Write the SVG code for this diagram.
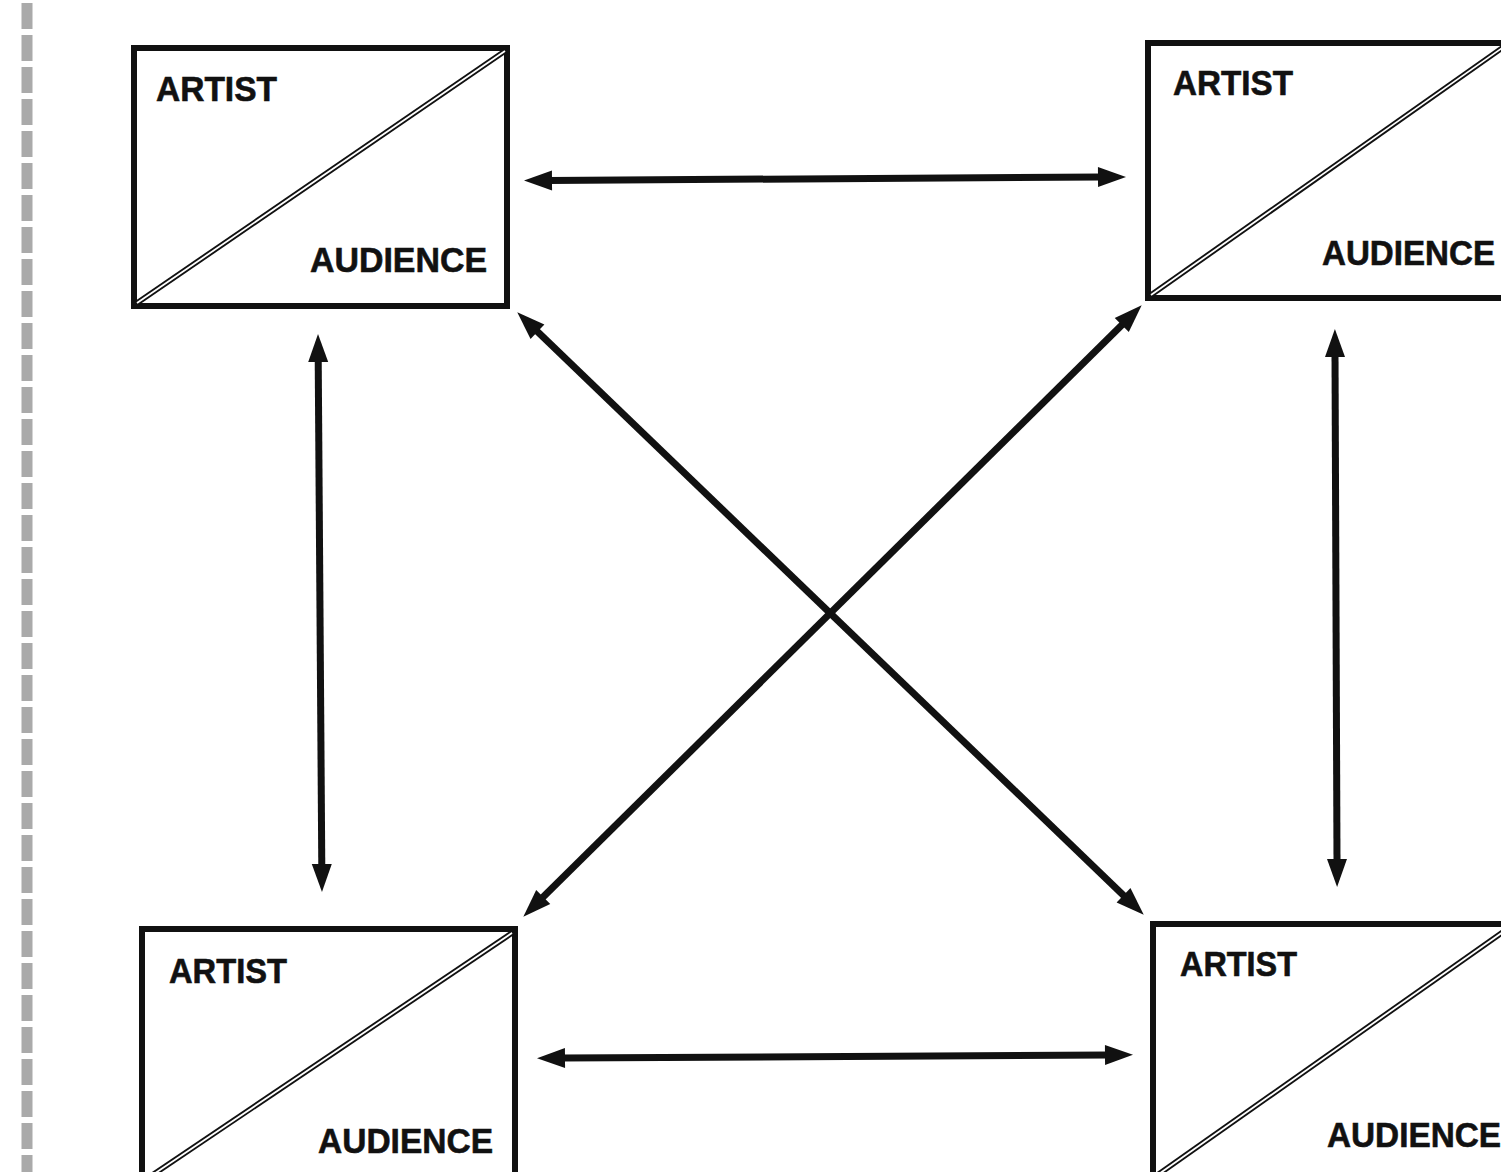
<svg xmlns="http://www.w3.org/2000/svg" width="1501" height="1172" viewBox="0 0 1501 1172">
<style>
.box{fill:#fff;stroke:#111;stroke-width:6}
.dO{stroke:#111;stroke-width:5.5;fill:none}
.dI{stroke:#fff;stroke-width:1.8;fill:none}
.lbl{font-family:"Liberation Sans",Arial,sans-serif;font-weight:bold;font-size:35px;fill:#111;stroke:#111;stroke-width:0.6}
.con{stroke:#111;stroke-width:7;fill:none;marker-start:url(#ah);marker-end:url(#ah)}
</style>
<defs>
<marker id="ah" markerUnits="userSpaceOnUse" markerWidth="32" markerHeight="24" viewBox="-4 -12 32 24" refX="0" refY="0" orient="auto-start-reverse">
<path d="M-3,-10 L25,0 L-3,10 z" fill="#111"/>
</marker>
</defs>
<rect width="1501" height="1172" fill="#fff"/>
<line x1="27" y1="0" x2="27" y2="1172" stroke="#aaa" stroke-width="11" stroke-dasharray="26 6" stroke-dashoffset="-3"/>
<g id="node-tl">
<rect class="box" x="134" y="48" width="373" height="258"/>
<line class="dO" x1="137" y1="303" x2="505" y2="51"/>
<line class="dI" x1="137" y1="303" x2="505" y2="51"/>
<text class="lbl" x="156" y="101" textLength="121" lengthAdjust="spacingAndGlyphs">ARTIST</text>
<text class="lbl" x="310" y="272" textLength="177" lengthAdjust="spacingAndGlyphs">AUDIENCE</text>
</g>
<g id="node-tr">
<rect class="box" x="1148" y="43" width="370" height="255"/>
<line class="dO" x1="1151" y1="295" x2="1512" y2="41"/>
<line class="dI" x1="1151" y1="295" x2="1512" y2="41"/>
<text class="lbl" x="1173" y="95" textLength="120" lengthAdjust="spacingAndGlyphs">ARTIST</text>
<text class="lbl" x="1322" y="265" textLength="173" lengthAdjust="spacingAndGlyphs">AUDIENCE</text>
</g>
<g id="node-bl">
<rect class="box" x="142" y="929" width="373" height="262"/>
<line class="dO" x1="512" y1="933" x2="145" y2="1180"/>
<line class="dI" x1="512" y1="933" x2="145" y2="1180"/>
<text class="lbl" x="169" y="983" textLength="118" lengthAdjust="spacingAndGlyphs">ARTIST</text>
<text class="lbl" x="318" y="1153" textLength="175" lengthAdjust="spacingAndGlyphs">AUDIENCE</text>
</g>
<g id="node-br">
<rect class="box" x="1153" y="924" width="370" height="262"/>
<line class="dO" x1="1156" y1="1176" x2="1520" y2="920"/>
<line class="dI" x1="1156" y1="1176" x2="1520" y2="920"/>
<text class="lbl" x="1180" y="976" textLength="117" lengthAdjust="spacingAndGlyphs">ARTIST</text>
<text class="lbl" x="1327" y="1147" textLength="174" lengthAdjust="spacingAndGlyphs">AUDIENCE</text>
</g>
<g id="connectors">
<line class="con" x1="549" y1="180.4" x2="1101" y2="177.1"/>
<line class="con" x1="562" y1="1058" x2="1108" y2="1055"/>
<line class="con" x1="318.2" y1="359" x2="321.8" y2="867"/>
<line class="con" x1="1335" y1="354" x2="1337" y2="862"/>
<line class="con" x1="535.3" y1="329.6" x2="1125.7" y2="897.4"/>
<line class="con" x1="1123.9" y1="322.9" x2="541.1" y2="899.1"/>
</g>
</svg>
